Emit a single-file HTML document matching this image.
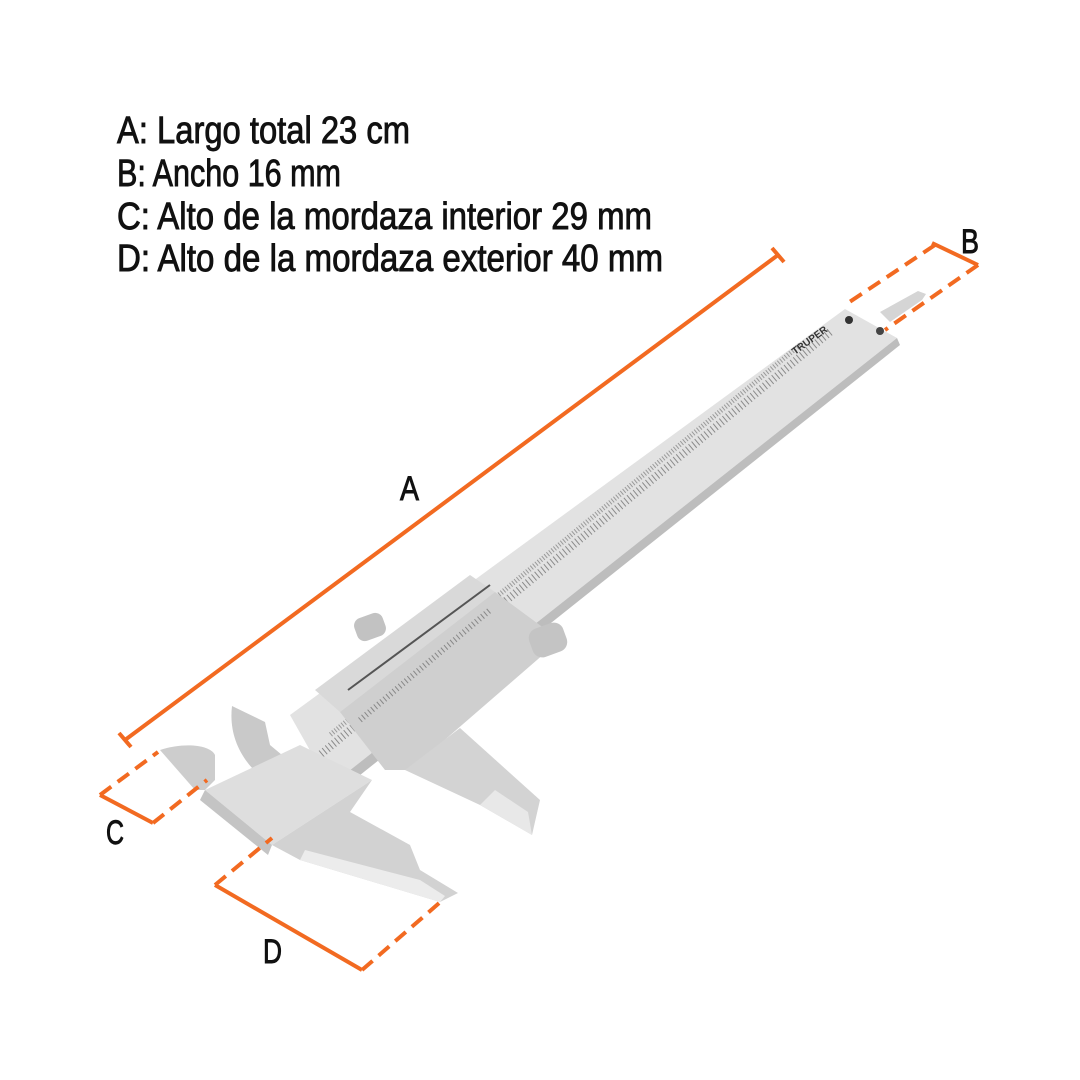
<!DOCTYPE html>
<html><head><meta charset="utf-8"><style>
html,body{margin:0;padding:0;background:#fff;width:1080px;height:1080px;overflow:hidden}
</style></head><body>
<svg width="1080" height="1080" viewBox="0 0 1080 1080" xmlns="http://www.w3.org/2000/svg">
<rect width="1080" height="1080" fill="#fff"/>
<g font-family="Liberation Sans Narrow, Liberation Sans, sans-serif" font-size="38" fill="#111" stroke="#111" stroke-width="0.9">
<text x="117" y="143" textLength="293" lengthAdjust="spacingAndGlyphs">A: Largo total 23 cm</text>
<text x="117" y="186" textLength="224" lengthAdjust="spacingAndGlyphs">B: Ancho 16 mm</text>
<text x="117" y="229" textLength="535" lengthAdjust="spacingAndGlyphs">C: Alto de la mordaza interior 29 mm</text>
<text x="117" y="271" textLength="546" lengthAdjust="spacingAndGlyphs">D: Alto de la mordaza exterior 40 mm</text>
<text x="400" y="500" font-size="34" textLength="19" lengthAdjust="spacingAndGlyphs">A</text>
<text x="961" y="253" font-size="34" textLength="18" lengthAdjust="spacingAndGlyphs">B</text>
<text x="106" y="844" font-size="34" textLength="18" lengthAdjust="spacingAndGlyphs">C</text>
<text x="263" y="963" font-size="34" textLength="19" lengthAdjust="spacingAndGlyphs">D</text>
</g>
<!-- caliper -->
<g stroke="none">
<!-- depth rod -->
<polygon points="880,312 918,291 926,294 922,300 890,322" fill="#d5d5d5"/>
<!-- upper inside jaw (behind) -->
<path d="M232,706 C228,740 245,770 280,790 L300,770 L270,745 L265,722 Z" fill="#c9c9c9"/>
<!-- beam -->
<polygon points="845,309 897,338 330,786 290,715" fill="#e2e2e2"/>
<polygon points="897,338 900,345 335,795 330,786" fill="#bdbdbd"/>
<!-- ticks on beam -->
<line x1="830" y1="332" x2="320" y2="755" stroke="#8a8a8a" stroke-width="8" stroke-dasharray="1 3"/>
<line x1="800" y1="345" x2="330" y2="735" stroke="#9a9a9a" stroke-width="5" stroke-dasharray="1 2"/>
<!-- fixed head -->
<path d="M160,750 C185,742 210,745 215,755 L215,780 L205,790 L195,790 Z" fill="#cdcdcd"/>
<polygon points="205,790 300,745 372,780 272,845" fill="#dedede"/>
<polygon points="205,790 272,845 268,855 200,800" fill="#c4c4c4"/>
<!-- lower fixed jaw D -->
<polygon points="272,845 372,780 350,812 410,845 420,870 458,893 440,902 300,860" fill="#d2d2d2"/>
<polygon points="300,860 440,902 445,896 420,880 305,850" fill="#ececec"/>
<!-- slider -->
<polygon points="315,690 470,575 495,592 340,712" fill="#d9d9d9"/>
<polygon points="340,712 495,592 560,640 410,770 385,770" fill="#cfcfcf"/>
<line x1="348" y1="690" x2="490" y2="585" stroke="#555" stroke-width="2"/>
<line x1="360" y1="720" x2="490" y2="610" stroke="#888" stroke-width="6" stroke-dasharray="1 3"/>
<!-- slider lower jaw -->
<polygon points="405,770 460,728 540,800 532,835 480,805" fill="#d3d3d3"/>
<polygon points="480,805 532,835 528,812 495,790" fill="#e8e8e8"/>
<!-- knobs -->
<rect x="355" y="615" width="30" height="24" rx="8" fill="#c2c2c2" transform="rotate(-20 370 627)"/>
<rect x="530" y="625" width="36" height="30" rx="10" fill="#c4c4c4" transform="rotate(-20 548 640)"/>
<circle cx="849" cy="320" r="4" fill="#333"/>
<circle cx="880" cy="331" r="4" fill="#444"/>
<text x="795" y="355" font-family="Liberation Sans" font-size="10" font-weight="bold" fill="#333" transform="rotate(-36 795 355)">TRUPER</text>
</g>
<!-- dimensions -->
<g stroke="#f26a21" stroke-width="4" fill="none" stroke-linecap="butt">
<line x1="125" y1="740" x2="778" y2="255"/>
<line x1="119" y1="733" x2="131" y2="747"/>
<line x1="772" y1="248" x2="784" y2="262"/>
<line x1="932" y1="243" x2="978" y2="265"/>
<line x1="100" y1="795" x2="153" y2="823"/>
<line x1="215" y1="885" x2="362" y2="970"/>
<g stroke-dasharray="14 8">
<line x1="935" y1="245" x2="845" y2="305"/>
<line x1="978" y1="265" x2="885" y2="330"/>
<line x1="100" y1="795" x2="158" y2="752"/>
<line x1="153" y1="823" x2="207" y2="780"/>
<line x1="215" y1="885" x2="272" y2="838"/>
<line x1="362" y1="970" x2="445" y2="898"/>
</g>
</g>
</svg>
</body></html>
